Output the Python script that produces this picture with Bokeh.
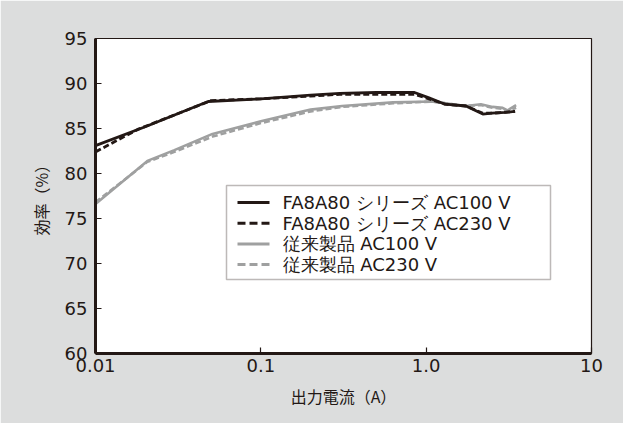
from bokeh.plotting import figure
from bokeh.models import FixedTicker, Range1d, BoxAnnotation, Arrow, Label
from bokeh.embed import file_html
from bokeh.resources import INLINE

# ---- data ----
x_fa100 = [0.01, 0.02, 0.048, 0.1, 0.2, 0.3, 0.5, 0.85, 1.04, 1.3, 1.74, 2.2, 2.5, 3.0, 3.45]
y_fa100 = [83.1, 85.2, 88.0, 88.3, 88.7, 88.9, 89.0, 89.0, 88.4, 87.7, 87.5, 86.6, 86.7, 86.8, 86.9]

x_fa230 = [0.01, 0.018, 0.05, 0.1, 0.2, 0.3, 0.5, 0.85, 1.04, 1.3, 1.74, 2.2, 2.5, 3.0, 3.45]
y_fa230 = [82.4, 84.9, 88.1, 88.3, 88.6, 88.8, 88.8, 88.8, 88.3, 87.7, 87.5, 86.7, 86.7, 86.8, 86.9]

x_old100 = [0.01, 0.0206, 0.03, 0.051, 0.1, 0.2, 0.31, 0.63, 1.09, 1.31, 1.74, 2.14, 2.52, 2.9, 3.1, 3.5]
y_old100 = [76.6, 81.4, 82.6, 84.4, 85.8, 87.1, 87.5, 87.9, 88.0, 87.8, 87.5, 87.7, 87.4, 87.3, 87.0, 87.6]

x_old230 = [0.01, 0.0206, 0.03, 0.051, 0.1, 0.2, 0.31, 0.63, 1.09, 1.31, 1.74, 2.14, 2.52, 2.9, 3.1, 3.5]
y_old230 = [76.8, 81.3, 82.4, 84.1, 85.6, 86.9, 87.4, 87.8, 88.0, 87.8, 87.5, 87.6, 87.3, 87.2, 86.9, 87.3]

x_ticks = [0.01, 0.1, 1, 10]
x_tick_labels = ["0.01", "0.1", "1.0", "10"]
y_ticks = [60, 65, 70, 75, 80, 85, 90, 95]

labels = ["FA8A80 シリーズ AC100 V", "FA8A80 シリーズ AC230 V", "従来製品 AC100 V", "従来製品 AC230 V"]
x_title = "出力電流（A）"
y_title = "効率（%）"

# ---- styles ----
INK = "#231815"
GRAY = "#9fa0a0"
BG = "#dcdddd"
NUM_FONT = "DejaVu Sans"
JP_FONT = "Noto Sans CJK JP"

p = figure(
    width=623, height=423,
    frame_width=496, frame_height=315,
    min_border_left=95, min_border_right=32, min_border_top=38, min_border_bottom=70,
    x_axis_type="log",
    x_range=Range1d(0.01, 10), y_range=Range1d(60, 95),
    output_backend="svg", toolbar_location=None,
    background_fill_color="white", border_fill_color=BG,
)

p.xgrid.visible = False
p.ygrid.visible = False
p.outline_line_color = INK
p.outline_line_width = 1.2

# axes
p.xaxis.ticker = FixedTicker(ticks=x_ticks, minor_ticks=[])
p.xaxis.major_label_overrides = {t: s for t, s in zip(x_ticks, x_tick_labels)}
p.yaxis.ticker = FixedTicker(ticks=y_ticks, minor_ticks=[])

for ax in (p.xaxis[0], p.yaxis[0]):
    ax.axis_line_color = INK
    ax.axis_line_width = 3
    ax.major_tick_line_color = INK
    ax.major_tick_line_width = 1.2
    ax.major_tick_in = 6
    ax.major_tick_out = 0
    ax.minor_tick_line_color = None
    ax.major_label_text_font = NUM_FONT
    ax.major_label_text_font_size = "18px"
    ax.major_label_text_color = INK
    ax.axis_label_text_font = JP_FONT
    ax.axis_label_text_font_size = "16px"
    ax.axis_label_text_font_style = "normal"
    ax.axis_label_text_color = INK

p.xaxis.axis_label = x_title
p.yaxis.axis_label = y_title
p.xaxis.major_label_standoff = 5
p.yaxis.major_label_standoff = 8
p.xaxis.axis_label_standoff = 9
p.yaxis.axis_label_standoff = 9

# lines
series = [
    (x_old230, y_old230, GRAY, 2.6, "6 3"),
    (x_old100, y_old100, GRAY, 2.6, "solid"),
    (x_fa230, y_fa230, INK, 2.8, "6 3"),
    (x_fa100, y_fa100, INK, 2.8, "solid"),
]
for xs, ys, c, w, d in series:
    p.line(xs, ys, line_color=c, line_width=w, line_dash=d)

# legend (drawn in screen units relative to the plot frame)
LEG_LEFT, LEG_RIGHT, LEG_BOTTOM, LEG_TOP = 131, 455, 74, 168
ROW0, ROW_STEP = 151, 20.7
SAMPLE_X0, SAMPLE_X1, TEXT_X = 142, 174, 187
legend_styles = [(INK, "solid"), (INK, "8 4"), (GRAY, "solid"), (GRAY, "8 4")]

p.add_layout(BoxAnnotation(
    left=LEG_LEFT, right=LEG_RIGHT, bottom=LEG_BOTTOM, top=LEG_TOP,
    left_units="screen", right_units="screen", bottom_units="screen", top_units="screen",
    fill_color="white", fill_alpha=1.0, line_color=INK, line_width=1.5, level="overlay",
))
for i, (lab, (c, d)) in enumerate(zip(labels, legend_styles)):
    yc = ROW0 - i * ROW_STEP
    p.add_layout(Arrow(
        end=None, x_start=SAMPLE_X0, y_start=yc, x_end=SAMPLE_X1, y_end=yc,
        start_units="screen", end_units="screen",
        line_color=c, line_width=3, line_dash=d, level="overlay",
    ))
    p.add_layout(Label(
        x=TEXT_X, y=yc, x_units="screen", y_units="screen", text=lab,
        text_font=NUM_FONT, text_font_size="18px", text_color=INK,
        text_baseline="middle", text_align="left", level="overlay",
    ))

open("out.html", "w").write(file_html(p, INLINE))
